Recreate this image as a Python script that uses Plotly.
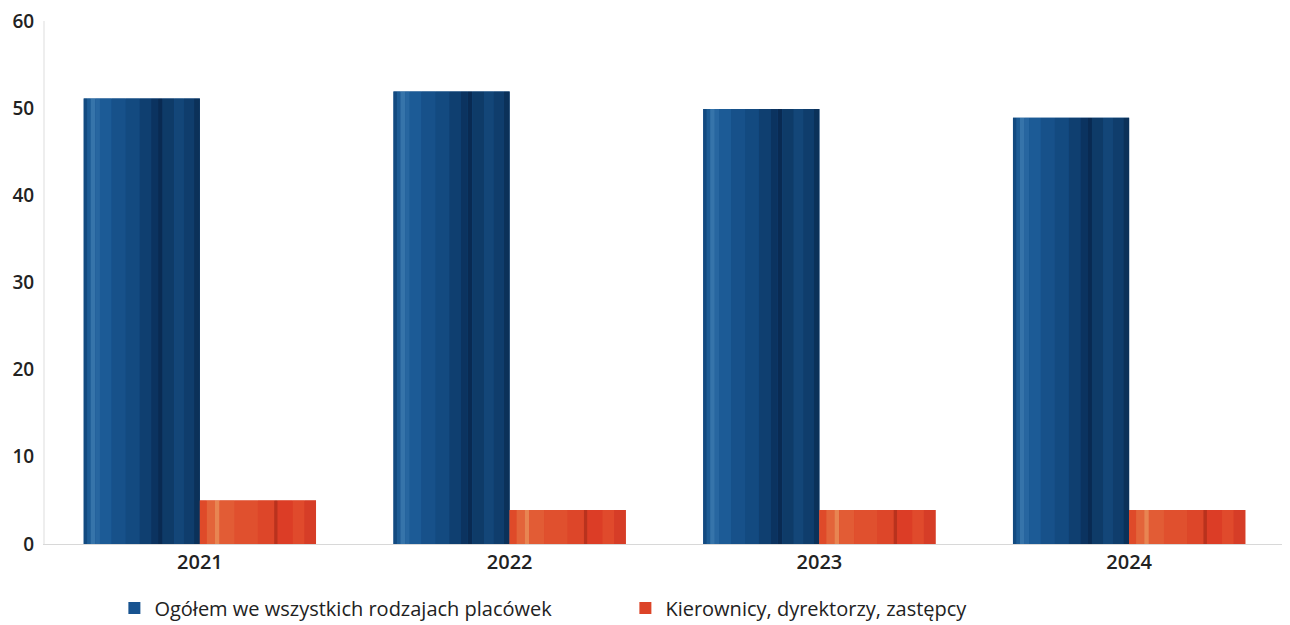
import plotly.graph_objects as go

years = ["2021", "2022", "2023", "2024"]
ogolem = [51.1, 51.9, 49.9, 48.9]
kierownicy = [5.0, 3.9, 3.9, 3.9]

series_names = ["Ogółem we wszystkich rodzajach placówek", "Kierownicy, dyrektorzy, zastępcy"]
tick_vals = [0, 10, 20, 30, 40, 50, 60]

fig = go.Figure()

W = 0.375  # width of each bar in category units

def add_bar(values, offset, base_col, stripes, name):
    fig.add_trace(go.Bar(x=years, y=values, width=W, offset=offset, marker_color=base_col,
                         marker_line_width=0, name=name, showlegend=True))
    for (f0, f1, col) in stripes:
        fig.add_trace(go.Bar(x=years, y=values, width=W * (f1 - f0), offset=offset + W * f0,
                             marker_color=col, marker_line_width=0, showlegend=False,
                             hoverinfo="skip"))

blue_stripes = [
    (0.00, 0.03, "#124a80"),
    (0.03, 0.06, "#1d5c95"),
    (0.06, 0.10, "#3674aa"),
    (0.10, 0.14, "#2766a0"),
    (0.14, 0.24, "#1c5b96"),
    (0.24, 0.36, "#17518a"),
    (0.36, 0.48, "#134a80"),
    (0.48, 0.58, "#0f3f70"),
    (0.58, 0.64, "#0b3360"),
    (0.64, 0.68, "#092a52"),
    (0.68, 0.78, "#0e3b68"),
    (0.78, 0.86, "#134678"),
    (0.86, 0.95, "#0f3d6c"),
    (0.95, 1.00, "#0b3159"),
]
red_stripes = [
    (0.00, 0.06, "#df4a29"),
    (0.06, 0.13, "#e3643a"),
    (0.13, 0.17, "#e88552"),
    (0.17, 0.30, "#e25c35"),
    (0.30, 0.50, "#e0502e"),
    (0.50, 0.64, "#dd4629"),
    (0.64, 0.67, "#b9321d"),
    (0.67, 0.80, "#dc3d26"),
    (0.80, 0.90, "#e04a2c"),
    (0.90, 1.00, "#d63d27"),
]

add_bar(ogolem, -W, "#185390", blue_stripes, series_names[0])
add_bar(kierownicy, 0, "#dc4428", red_stripes, series_names[1])

fig.update_layout(
    width=1282, height=617,
    barmode="overlay",
    paper_bgcolor="white", plot_bgcolor="white",
    margin=dict(l=37, r=6, t=13, b=81, autoexpand=False),
    font=dict(family="Open Sans", size=17, color="#222222"),
    showlegend=True,
    legend=dict(orientation="h", x=0.056, xanchor="left", y=-0.085, yanchor="top",
                font=dict(size=20, color="#222222"), itemwidth=30,
                traceorder="normal", entrywidth=466, entrywidthmode="pixels"),
    bargap=0.25,
)
fig.update_xaxes(showgrid=False, showline=True, linecolor="#d8d8d8", linewidth=1,
                 ticks="", automargin=False,
                 tickfont=dict(size=20, color="#222222", weight=600))
fig.update_yaxes(range=[0, 60], tickvals=tick_vals, showgrid=False, zeroline=False,
                 showline=True, linecolor="#eeeeee", linewidth=2, ticks="", automargin=False,
                 ticklabeloverflow="allow",
                 tickfont=dict(size=19, color="#222222", weight=600), ticklabelstandoff=5)

fig.write_html("out.html")
